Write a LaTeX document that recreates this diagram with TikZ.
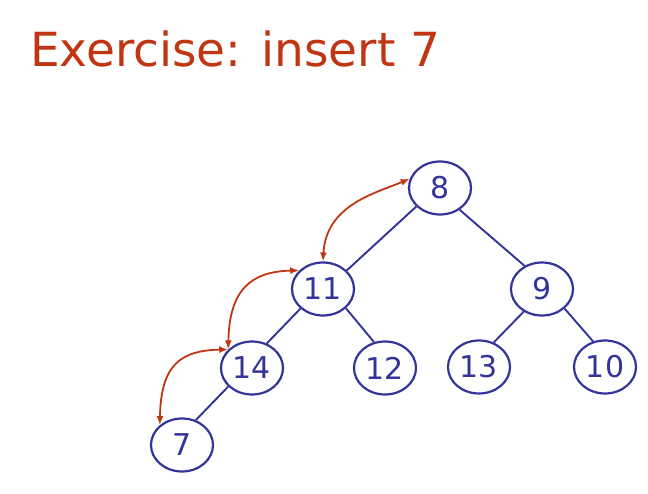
\documentclass[tikz,border=0pt]{standalone}
\usepackage{fontspec}
\setmainfont{DejaVu Sans}
\usetikzlibrary{shapes.geometric,arrows.meta}
\definecolor{titlered}{RGB}{192,54,18}
\definecolor{nodeblue}{RGB}{51,51,153}
\begin{document}
\begin{tikzpicture}[x=1pt,y=-1pt,
  keynode/.style={ellipse,draw=nodeblue,line width=2.2pt,minimum width=62pt,minimum height=53pt,inner sep=0pt,text=nodeblue,font=\fontsize{30}{30}\selectfont},
  treeedge/.style={draw=nodeblue,line width=1.9pt},
  swaparrow/.style={draw=titlered,line width=1.8pt,{Latex[length=9pt,width=7pt]}-{Latex[length=9pt,width=7pt]}}]
\useasboundingbox (0,0) rectangle (648,494);
\node[anchor=base west,inner sep=0pt,text=titlered,font=\fontsize{47}{47}\selectfont] (title) at (30,67) {Exercise: insert 7};
\node[keynode] (n8)  at (440,188) {8};
\node[keynode] (n11) at (323,289) {11};
\node[keynode] (n9)  at (542,289) {9};
\node[keynode] (n14) at (252,368) {14};
\node[keynode] (n12) at (385,368) {12};
\node[keynode] (n13) at (479,367) {13};
\node[keynode] (n10) at (605,367) {10};
\node[keynode] (n7)  at (182,445) {7};
\draw[treeedge] (n8.218) -- (n11.38);
\draw[treeedge] (n8.312) -- (n9.127);
\draw[treeedge] (n11.221) -- (n14.59);
\draw[treeedge] (n11.320) -- (n12.113);
\draw[treeedge] (n14.218) -- (n7.61);
\draw[treeedge] (n9.231) -- (n13.59);
\draw[treeedge] (n9.319) -- (n10.115);
\draw[swaparrow] (n7.138) .. controls +(1,-60) and +(-48,1) .. (n14.142);
\draw[swaparrow] (n14.142) .. controls +(1,-60) and +(-48,1) .. (n11.142);
\draw[swaparrow] (n11.90) .. controls +(3,-57) and +(-33,14) .. (n8.163);
\end{tikzpicture}
\end{document}
